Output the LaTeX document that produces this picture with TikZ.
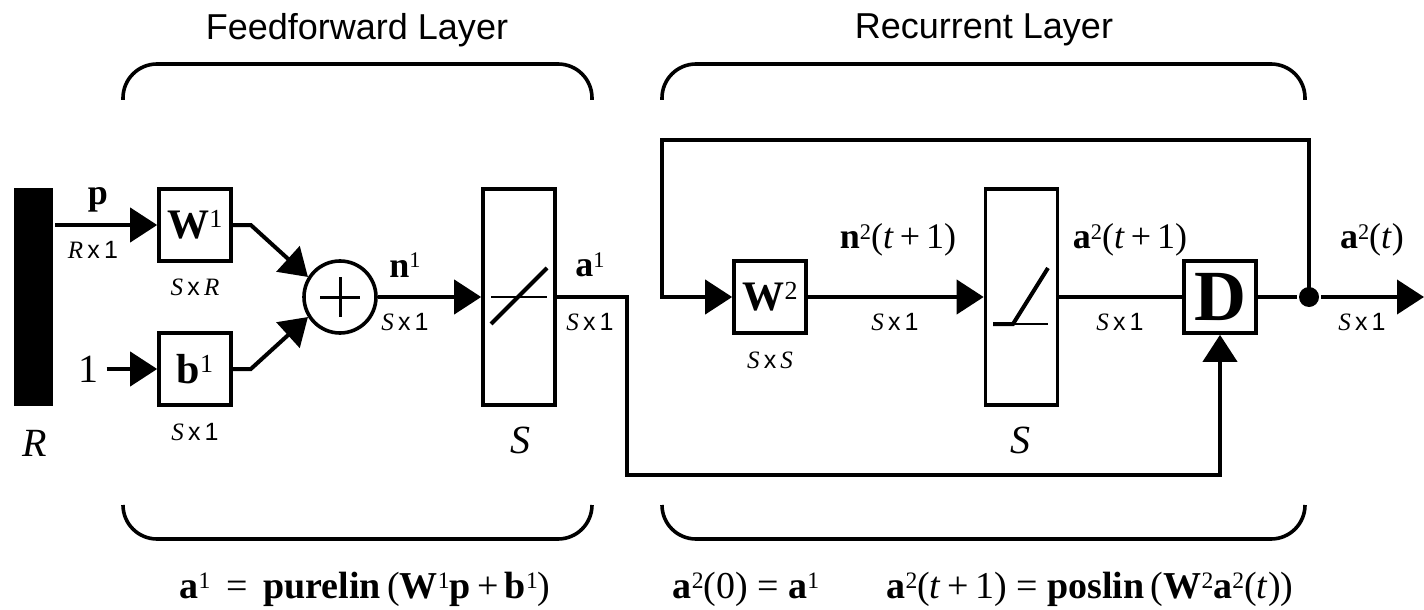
\documentclass[tikz,border=0pt]{standalone}
\usepackage{fontspec}
\usepackage{graphicx}
\setmainfont{Liberation Serif}
\setsansfont{Liberation Sans}
\usetikzlibrary{arrows.meta,positioning,calc}

\newcommand{\bv}[1]{\textbf{#1}}
\newcommand{\sups}[1]{\raisebox{0.26em}{\scalebox{0.62}{#1}}}
\newcommand{\sz}[2]{\textit{#1}\,\textsf{x}\,#2}

\begin{document}
\begin{tikzpicture}[
  x=0.5pt, y=-0.5pt,
  line width=2pt,
  arr/.style={-{Triangle[length=13.5pt,width=17pt]}},
  blk/.style={draw, line width=1.8pt, minimum size=36pt, inner sep=0pt, font=\fontsize{21}{24}\selectfont},
  tf/.style={draw, line width=1.8pt, minimum width=36pt, minimum height=108pt, inner sep=0pt},
  lab/.style={font=\fontsize{18}{20}\selectfont},
  eqn/.style={anchor=base, font=\fontsize{19}{21}\selectfont},
  big/.style={font=\fontsize{20}{22}\selectfont\itshape},
  dim/.style={font=\fontsize{12.5}{14}\selectfont},
  layer/.style={font=\sffamily\fontsize{18}{20}\selectfont},
  brace/.style={line width=1.8pt, rounded corners=17pt}
]
\useasboundingbox (0,0) rectangle (1424,610);

% Nodes
\node[fill=black, minimum width=19.5pt, minimum height=109pt, inner sep=0pt] (bar) at (33.5,297) {};
\node[blk] (W1) at (195,225) {\bv{W}\sups{1}};
\node[blk] (b1) at (195,369) {\bv{b}\sups{1}};
\node[lab, font=\fontsize{20}{22}\selectfont] (one) at (88,369) {1};
\node[circle, draw, line width=1.8pt, minimum size=36pt, inner sep=0pt] (sum) at (340,297) {};
\node[tf] (tf1) at (519,297) {};
\node[blk] (W2) at (770,297) {\bv{W}\sups{2}};
\node[tf] (tf2) at (1021.5,297) {};
\node[blk, font=\fontsize{36}{40}\selectfont\bfseries] (D) at (1220,297) {D};
\node[circle, fill=black, minimum size=10pt, inner sep=0pt] (dot) at (1309,297) {};
\coordinate (out) at (1424,297);
\coordinate (a1turn) at (627,475);
\coordinate (fbtop) at (662,140);

% Icons
\draw[line width=1.5pt] ($(sum.center)+(-20,0)$) -- ++(40,0);
\draw[line width=1.5pt] ($(sum.center)+(0,-20)$) -- ++(0,40);
\draw[line width=1pt] ($(tf1.center)+(-28,0)$) -- ++(56,0);
\draw ($(tf1.center)+(-28,27)$) -- ($(tf1.center)+(28,-29)$);
\draw[line width=1pt] ($(tf2.center)+(-28.5,27)$) -- ++(55,0);
\draw ($(tf2.center)+(-28.5,27)$) -- ++(20,0) -- ($(tf2.center)+(26.5,-29)$);

% Arrows
\draw[arr] (bar.east |- W1.west) -- (W1.west);
\draw[arr] (one) -- (b1);
\draw[arr] (W1.east) -- ++(18,0) -- (sum.148);
\draw[arr] (b1.east) -- ++(18,0) -- (sum.212);
\draw[arr] (sum) -- (tf1);
\draw[arr] (tf1.east) -| (a1turn) -| (D.south);
\draw[arr] (W2) -- (tf2);
\draw (tf2.east) -- (D.west);
\draw (D) -- (dot);
\draw[arr] (dot) -- (out);
\draw[arr] (dot.center) |- (fbtop) |- (W2.west);

% Labels
\node[lab] at (98,200) {\bv{p}};
\node[dim] at (93,250) {\sz{R}{\textsf{1}}};
\node[dim] at (195,287) {\sz{S}{\textit{R}}};
\node[dim] at (195,432) {\sz{S}{\textsf{1}}};
\node[big] at (35,443) {R};
\node[lab] at (405,265) {\bv{n}\sups{1}};
\node[dim] at (405,322) {\sz{S}{\textsf{1}}};
\node[lab] at (590,265) {\bv{a}\sups{1}};
\node[dim] at (590,322) {\sz{S}{\textsf{1}}};
\node[big] at (520,440) {S};
\node[lab] at (898,240) {\bv{n}\sups{2}(\textit{t}\,+\,1)};
\node[dim] at (895,322) {\sz{S}{\textsf{1}}};
\node[dim] at (770,360) {\sz{S}{\textit{S}}};
\node[big] at (1020,440) {S};
\node[lab] at (1130,240) {\bv{a}\sups{2}(\textit{t}\,+\,1)};
\node[dim] at (1120,322) {\sz{S}{\textsf{1}}};
\node[lab] at (1372,240) {\bv{a}\sups{2}(\textit{t})};
\node[dim] at (1362,322) {\sz{S}{\textsf{1}}};

% Layers
\node[layer] at (357,30) {Feedforward Layer};
\node[layer] at (984,30) {Recurrent Layer};
\draw[brace] (123,100) -- (123,64) -- (592,64) -- (592,100);
\draw[brace] (662,100) -- (662,64) -- (1305,64) -- (1305,100);
\draw[brace] (123,505) -- (123,539) -- (592,539) -- (592,505);
\draw[brace] (662,505) -- (662,539) -- (1305,539) -- (1305,505);

% Equations
\node[eqn] at (365,598) {\bv{a}\sups{1} \,=\, \bv{purelin}\,(\bv{W}\sups{1}\bv{p}\,+\,\bv{b}\sups{1})};
\node[eqn] at (746,598) {\bv{a}\sups{2}(0) = \bv{a}\sups{1}};
\node[eqn] at (1090,598) {\bv{a}\sups{2}(\textit{t}\,+\,1) = \bv{poslin}\,(\bv{W}\sups{2}\bv{a}\sups{2}(\textit{t}))};

\end{tikzpicture}
\end{document}
